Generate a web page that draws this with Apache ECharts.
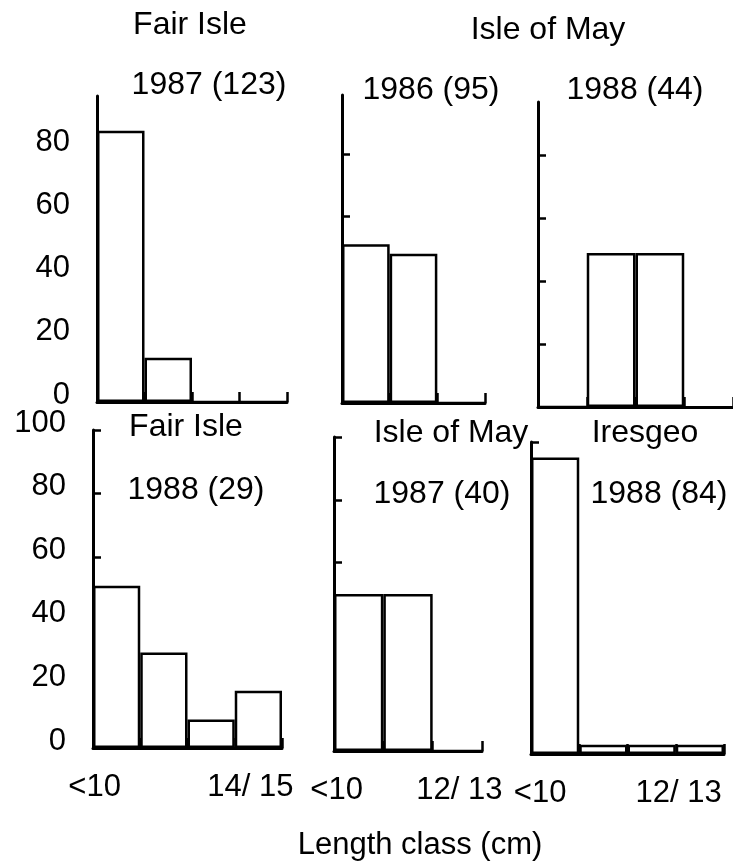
<!DOCTYPE html>
<html>
<head>
<meta charset="utf-8">
<script src="https://cdn.jsdelivr.net/npm/echarts@6/dist/echarts.min.js"></script>
<style>
  html, body { margin: 0; padding: 0; background: #fff; }
  #chart { width: 733px; height: 867px; }
</style>
</head>
<body>
<div id="chart"></div>
<script>
// Length classes (cm) per site
const fairIsleClasses = ['<10', '10/11', '12/13', '14/15'];
const isleOfMayClasses = ['<10', '10/11', '12/13'];
const iresgeoClasses = ['<10', '10/11', '12/13', '14/15'];

// Percentage of fish in each length class
const fairIsle1987 = [86, 14, 0, 0];
const isleOfMay1986 = [51, 48, 0];
const isleOfMay1988 = [0, 49, 49];
const fairIsle1988 = [51, 30, 9, 18];
const isleOfMay1987 = [50, 50, 0];
const iresgeo1988 = [95, 3, 3, 3];

// Axis tick values and labels
const yTicksTop = [0, 20, 40, 60, 80];
const yTicksBottom = [0, 20, 40, 60, 80, 100];
const fairIsleTickLabels = ['<10', '', '', '14/ 15'];
const isleOfMayTickLabels = ['<10', '', '12/ 13'];
const iresgeoTickLabels = ['<10', '', '12/ 13', ''];

// Panel headings
const siteNames = ['Fair Isle', 'Isle of May', 'Fair Isle', 'Isle of May', 'Iresgeo'];
const sampleNames = ['1987 (123)', '1986 (95)', '1988 (44)', '1988 (29)', '1987 (40)', '1988 (84)'];
const xAxisName = 'Length class (cm)';

const FONT = 'Liberation Sans';
const INK = '#000';
const TICK_FONT = 31;
const HEAD_FONT = 32;

const panels = [
  { cats: fairIsleClasses, data: fairIsle1987, box: [97, 96, 190, 306], max: 97, ticks: yTicksTop, yLabels: true, xLabels: null },
  { cats: isleOfMayClasses, data: isleOfMay1986, box: [342, 95, 143, 308], max: 99, ticks: yTicksTop, yLabels: false, xLabels: null },
  // the baseline of this panel runs on one empty slot past the last class
  { cats: isleOfMayClasses.concat(['']), data: isleOfMay1988.concat([null]), box: [538, 102, 196, 305], max: 97, ticks: yTicksTop, yLabels: false, xLabels: null },
  { cats: fairIsleClasses, data: fairIsle1988, box: [93, 430, 189, 318], max: 100, ticks: yTicksBottom, yLabels: true,
    xLabels: fairIsleTickLabels, shifts: [-22, 0, 0, -8] },
  { cats: isleOfMayClasses, data: isleOfMay1987, box: [334, 437, 148, 314], max: 100, ticks: yTicksBottom, yLabels: false,
    xLabels: isleOfMayTickLabels, shifts: [-22, 0, 2] },
  { cats: iresgeoClasses, data: iresgeo1988, box: [531, 442, 193, 312], max: 100, ticks: yTicksBottom, yLabels: false,
    xLabels: iresgeoTickLabels, shifts: [-15, 0, 27, 0] }
];

const grids = [], xAxes = [], yAxes = [], series = [];

panels.forEach((p, i) => {
  grids.push({ left: p.box[0], top: p.box[1], width: p.box[2], height: p.box[3], containLabel: false });

  const rich = {};
  if (p.xLabels) {
    p.xLabels.forEach((t, k) => {
      const d = p.shifts[k] || 0;
      rich['s' + k] = {
        fontFamily: FONT, fontSize: TICK_FONT, color: INK,
        padding: d < 0 ? [0, -2 * d, 0, 0] : [0, 0, 0, 2 * d]
      };
    });
  }

  xAxes.push({
    type: 'category',
    gridIndex: i,
    data: p.cats,
    boundaryGap: true,
    axisLine: { show: true, lineStyle: { color: INK, width: 3 } },
    axisTick: { show: true, inside: true, length: 10, interval: 0, lineStyle: { color: INK, width: 2.5 } },
    axisLabel: p.xLabels ? {
      show: true,
      interval: 0,
      margin: 24,
      fontFamily: FONT,
      fontSize: TICK_FONT,
      color: INK,
      formatter: (v, k) => p.xLabels[k] ? '{s' + k + '|' + p.xLabels[k] + '}' : '',
      rich: rich
    } : { show: false },
    splitLine: { show: false }
  });

  yAxes.push({
    type: 'value',
    gridIndex: i,
    min: 0,
    max: p.max,
    axisLine: { show: true, lineStyle: { color: INK, width: 3 } },
    axisTick: { show: true, inside: true, length: 8, customValues: p.ticks, lineStyle: { color: INK, width: 2.5 } },
    axisLabel: {
      show: p.yLabels,
      customValues: p.ticks,
      margin: 27,
      fontFamily: FONT,
      fontSize: TICK_FONT,
      color: INK,
      // numbers sit a little above their tick marks
      formatter: v => '{n|' + v + '}',
      rich: { n: { fontFamily: FONT, fontSize: TICK_FONT, color: INK, padding: [0, 0, 14, 0] } }
    },
    splitLine: { show: false }
  });

  series.push({
    type: 'bar',
    xAxisIndex: i,
    yAxisIndex: i,
    data: p.data,
    barCategoryGap: '0%',
    silent: true,
    itemStyle: { color: '#fff', borderColor: INK, borderWidth: 2.5 }
  });
});

function label(text, x, y, size) {
  return {
    type: 'text', x: x, y: y, silent: true,
    style: { text: text, fill: INK, font: size + 'px "' + FONT + '"', textAlign: 'center', textVerticalAlign: 'middle' }
  };
}

const graphics = [
  label(siteNames[0], 190, 25, HEAD_FONT),
  label(sampleNames[0], 209, 85, HEAD_FONT),
  label(siteNames[1], 548, 30, HEAD_FONT),
  label(sampleNames[1], 431, 90, HEAD_FONT),
  label(sampleNames[2], 635, 90, HEAD_FONT),
  label(siteNames[2], 186, 427, HEAD_FONT),
  label(sampleNames[3], 196, 490, HEAD_FONT),
  label(siteNames[3], 451, 433, HEAD_FONT),
  label(sampleNames[4], 442, 494, HEAD_FONT),
  label(siteNames[4], 645, 433, HEAD_FONT),
  label(sampleNames[5], 659, 494, HEAD_FONT),
  label(xAxisName, 420, 845, 31)
];

const chart = echarts.init(document.getElementById('chart'), null, { renderer: 'canvas' });
chart.setOption({
  animation: false,
  backgroundColor: '#fff',
  grid: grids,
  xAxis: xAxes,
  yAxis: yAxes,
  series: series,
  graphic: graphics
});
</script>
</body>
</html>
